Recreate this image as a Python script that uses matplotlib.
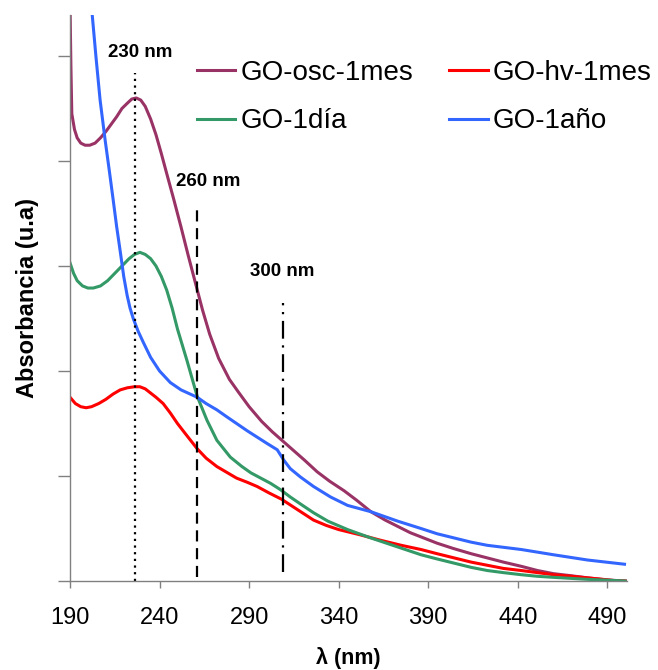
import matplotlib.pyplot as plt

plt.rcParams["font.family"] = ["Liberation Sans", "DejaVu Sans"]

# Absorbance spectra (arbitrary units)
wl_osc = [190, 190.5, 191, 192.5, 194, 196, 198.4, 201, 204, 207, 210, 213, 216, 219,
          222, 224.5, 227, 229.5, 232, 235, 238, 241, 244, 248, 252, 256, 260, 264,
          268, 273, 279, 284, 290, 297, 303, 309, 315, 321, 328, 335, 343, 350, 358,
          366, 373, 380, 386, 395, 404, 414, 423, 432, 442, 451, 460, 470, 479, 490, 500]
abs_osc = [5.5, 4.9, 4.45, 4.3, 4.22, 4.17, 4.15, 4.15, 4.17, 4.22, 4.28, 4.35, 4.42, 4.5,
           4.55, 4.59, 4.6, 4.58, 4.52, 4.4, 4.25, 4.07, 3.88, 3.63, 3.37, 3.1, 2.84, 2.58,
           2.35, 2.12, 1.92, 1.8, 1.66, 1.52, 1.42, 1.33, 1.24, 1.15, 1.04, 0.95, 0.86, 0.77, 0.66,
           0.58, 0.52, 0.46, 0.42, 0.36, 0.31, 0.26, 0.22, 0.18, 0.14, 0.10, 0.07, 0.05, 0.03, 0.01, 0.0]

wl_hv = [190, 193, 196, 199, 202, 206, 210, 214, 218, 222, 226, 229, 232, 235, 238,
         242, 246, 250, 255, 261, 266, 272, 278, 283, 289, 294.5, 301, 308, 317, 326,
         333, 340, 352, 363, 375, 386, 395, 404.5, 414, 423, 432, 442, 451, 460, 470,
         479, 488, 496, 500]
abs_hv = [1.75, 1.69, 1.66, 1.65, 1.66, 1.69, 1.73, 1.78, 1.82, 1.84, 1.85, 1.85, 1.83, 1.79, 1.75,
          1.69, 1.60, 1.50, 1.39, 1.26, 1.17, 1.09, 1.03, 0.98, 0.94, 0.90, 0.84, 0.78, 0.68, 0.58,
          0.53, 0.49, 0.44, 0.39, 0.34, 0.30, 0.26, 0.22, 0.18, 0.15, 0.12, 0.10, 0.08, 0.06, 0.045,
          0.03, 0.015, 0.0, 0.0]

wl_dia = [190, 192, 194, 197, 200, 203, 207, 211, 215, 219, 223, 226, 229, 232, 235,
          238, 241, 244, 247, 250, 255.3, 261, 266.5, 272, 279.5, 286, 291, 302, 307.5,
          313, 319, 326, 334, 345, 358, 372, 386, 395, 404.5, 414, 423, 432, 442, 451,
          460, 470, 479, 490, 500]
abs_dia = [3.03, 2.93, 2.86, 2.81, 2.79, 2.79, 2.81, 2.86, 2.93, 3.0, 3.07, 3.11, 3.13, 3.11, 3.07,
           3.0, 2.9, 2.77, 2.6, 2.4, 2.1, 1.76, 1.53, 1.34, 1.18, 1.09, 1.03, 0.93, 0.87,
           0.80, 0.73, 0.65, 0.57, 0.49, 0.41, 0.33, 0.25, 0.21, 0.17, 0.13, 0.10, 0.08, 0.06, 0.045,
           0.035, 0.025, 0.016, 0.008, 0.0]

wl_ano = [200, 202.3, 204.5, 206.8, 209.6, 212, 214.1, 216, 218.2, 220, 221.9, 223.5, 225.3,
          228, 231, 235, 240, 246, 252, 261, 266, 272, 277, 283, 289, 294.5, 300, 305.7,
          309.4, 313, 318.7, 326, 335.5, 345, 358, 373, 386, 395, 404.5, 414, 423, 442,
          460, 479, 499.6]
abs_ano = [5.85, 5.41, 4.99, 4.58, 4.2, 3.9, 3.63, 3.38, 3.12, 2.9, 2.72, 2.6, 2.5,
           2.38, 2.27, 2.13, 2.0, 1.89, 1.82, 1.75, 1.69, 1.63, 1.57, 1.50, 1.43, 1.37, 1.31, 1.25,
           1.15, 1.07, 0.99, 0.90, 0.80, 0.72, 0.66, 0.57, 0.50, 0.45, 0.41, 0.37, 0.34, 0.30,
           0.25, 0.20, 0.16]

# marker lines: label, x position, y span, label position
marks = ["230 nm", "260 nm", "300 nm"]
mark_x = [226.4, 261, 309.2]
mark_y0 = [0.0, 0.04, 0.09]
mark_y1 = [4.84, 3.53, 2.65]
mark_style = [(0, (1, 2)), (0, (5, 3)), (0, (8, 3, 1, 3))]
label_x = [229.2, 267.2, 308.6]
label_y = [5.03, 3.8, 2.95]

fig = plt.figure(figsize=(6.58, 6.7), dpi=100)
ax = fig.add_axes([0.1064, 0.1328, 0.8465, 0.8448])

l_osc, = ax.plot(wl_osc, abs_osc, color="#993366", lw=2.2, label="GO-osc-1mes")
l_hv, = ax.plot(wl_hv, abs_hv, color="#FF0000", lw=2.2, label="GO-hv-1mes")
l_dia, = ax.plot(wl_dia, abs_dia, color="#339966", lw=2.2, label="GO-1día")
l_ano, = ax.plot(wl_ano, abs_ano, color="#3366FF", lw=2.2, label="GO-1año")

for x, y0, y1, ls in zip(mark_x, mark_y0, mark_y1, mark_style):
    ax.vlines(x, y0, y1, colors="black", linestyles=[ls], lw=1.6)

for txt, x, y in zip(marks, label_x, label_y):
    ax.text(x, y, txt, fontsize=13.5, fontweight="bold", ha="center", va="center")

ax.set_xlim(190, 501)
ax.set_ylim(0, 5.39)
ax.set_xticks([190, 240, 290, 340, 390, 440, 490])
ax.set_yticks([0, 1, 2, 3, 4, 5])
ax.set_yticklabels([])
ax.tick_params(axis="x", direction="out", length=5, width=1, color="#808080",
               labelsize=17, pad=13.5)
ax.tick_params(axis="y", direction="out", length=8.5, width=1, color="#808080")
for s in ["top", "right"]:
    ax.spines[s].set_visible(False)
for s in ["left", "bottom"]:
    ax.spines[s].set_color("#808080")
    ax.spines[s].set_linewidth(1)

ax.set_xlabel("λ (nm)", fontsize=15.5, fontweight="bold", labelpad=13)
ax.set_ylabel("Absorbancia (u.a)", fontsize=17, fontweight="bold", labelpad=10)

# legend fills column-wise, so order handles to get osc/hv on the first row
fig.legend([l_osc, l_dia, l_hv, l_ano],
           ["GO-osc-1mes", "GO-1día", "GO-hv-1mes", "GO-1año"],
           loc="upper left", bbox_to_anchor=(197 / 658, 1 - 60 / 670), ncol=2,
           frameon=False, borderpad=0, borderaxespad=0, fontsize=20,
           handlelength=1.37, handletextpad=0.2, columnspacing=1.3,
           labelspacing=0.81)

fig.savefig("out.png", dpi=100)
